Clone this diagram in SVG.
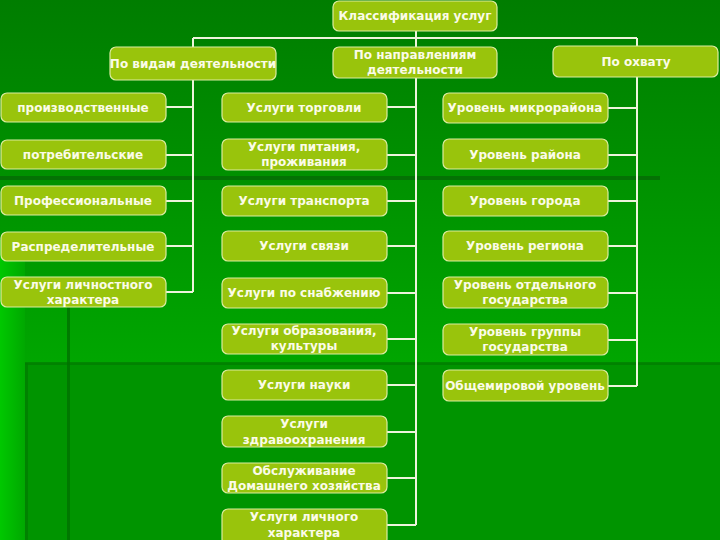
<svg xmlns="http://www.w3.org/2000/svg" width="720" height="540" viewBox="0 0 720 540">
<defs>
<linearGradient id="bg" x1="0" y1="0" x2="0" y2="1">
<stop offset="0" stop-color="#007d00"/>
<stop offset="1" stop-color="#00a600"/>
</linearGradient>
<linearGradient id="ls" x1="0" y1="0" x2="1" y2="0">
<stop offset="0" stop-color="#00c800"/>
<stop offset="1" stop-color="#00a800"/>
</linearGradient>
</defs>
<style>
.n rect{fill:#99c40c;stroke:#dcecA0;stroke-width:1.2}
.n text{font-family:"DejaVu Sans","Liberation Sans",sans-serif;font-size:12px;font-weight:bold;fill:#fbfbe8;text-anchor:middle}
.c{stroke:#eef4dc;stroke-width:2;fill:none}
</style>
<rect x="0" y="0" width="720" height="363" fill="url(#bg)"/>
<rect x="0" y="176" width="660" height="4" fill="#056a05" opacity="0.8"/>
<rect x="0" y="240" width="25" height="300" fill="url(#ls)"/>
<rect x="25" y="363" width="695" height="177" fill="#009400"/>
<rect x="25" y="362" width="695" height="3" fill="#007a00" opacity="0.7"/>
<rect x="25" y="363" width="3" height="177" fill="#007a00" opacity="0.7"/>
<rect x="67" y="300" width="3" height="240" fill="#007000" opacity="0.8"/>
<g id="connectors">
<path class="c" d="M416 31V47M193 38H637M193 38V47M637 38V46"/>
<path class="c" d="M193 80V292M166 107H193M166 155H193M166 201H193M166 246H193M166 292H193"/>
<path class="c" d="M416 78V525M387 107H416M387 155H416M387 201H416M387 246H416M387 293H416M387 339H416M387 385H416M387 432H416M387 478H416M387 525H416"/>
<path class="c" d="M637 77V386M608 108H637M608 155H637M608 201H637M608 246H637M608 293H637M608 340H637M608 386H637"/>
</g>
<g id="root" class="n"><rect x="333" y="1" width="164" height="30" rx="6"/><text x="415" y="20">Классификация услуг</text></g>
<g id="h1" class="n"><rect x="110" y="47" width="166" height="33" rx="6"/><text x="193" y="68">По видам деятельности</text></g>
<g id="h2" class="n"><rect x="333" y="47" width="164" height="31" rx="6"/><text x="415" y="59">По направлениям</text><text x="415" y="74">деятельности</text></g>
<g id="h3" class="n"><rect x="553" y="46" width="165" height="31" rx="6"/><text x="636" y="66">По охвату</text></g>

<g id="l1" class="n"><rect x="1" y="93" width="165" height="29" rx="6"/><text x="83" y="112">производственные</text></g>
<g id="l2" class="n"><rect x="1" y="140" width="165" height="29" rx="6"/><text x="83" y="159">потребительские</text></g>
<g id="l3" class="n"><rect x="1" y="186" width="165" height="29" rx="6"/><text x="83" y="205">Профессиональные</text></g>
<g id="l4" class="n"><rect x="1" y="232" width="165" height="29" rx="6"/><text x="83" y="251">Распределительные</text></g>
<g id="l5" class="n"><rect x="1" y="277" width="165" height="30" rx="6"/><text x="83" y="289">Услуги личностного</text><text x="83" y="304">характера</text></g>

<g id="m1" class="n"><rect x="222" y="93" width="165" height="29" rx="6"/><text x="304" y="112">Услуги торговли</text></g>
<g id="m2" class="n"><rect x="222" y="139" width="165" height="31" rx="6"/><text x="304" y="151">Услуги питания,</text><text x="304" y="166">проживания</text></g>
<g id="m3" class="n"><rect x="222" y="186" width="165" height="30" rx="6"/><text x="304" y="205">Услуги транспорта</text></g>
<g id="m4" class="n"><rect x="222" y="231" width="165" height="30" rx="6"/><text x="304" y="250">Услуги связи</text></g>
<g id="m5" class="n"><rect x="222" y="278" width="165" height="30" rx="6"/><text x="304" y="297">Услуги по снабжению</text></g>
<g id="m6" class="n"><rect x="222" y="324" width="165" height="30" rx="6"/><text x="304" y="335">Услуги образования,</text><text x="304" y="350">культуры</text></g>
<g id="m7" class="n"><rect x="222" y="370" width="165" height="30" rx="6"/><text x="304" y="389">Услуги науки</text></g>
<g id="m8" class="n"><rect x="222" y="416" width="165" height="31" rx="6"/><text x="304" y="428">Услуги</text><text x="304" y="444">здравоохранения</text></g>
<g id="m9" class="n"><rect x="222" y="463" width="165" height="30" rx="6"/><text x="304" y="475">Обслуживание</text><text x="304" y="490">Домашнего  хозяйства</text></g>
<g id="m10" class="n"><rect x="222" y="509" width="165" height="36" rx="6"/><text x="304" y="521">Услуги личного</text><text x="304" y="537">характера</text></g>

<g id="r1" class="n"><rect x="443" y="93" width="165" height="30" rx="6"/><text x="525" y="112">Уровень микрорайона</text></g>
<g id="r2" class="n"><rect x="443" y="139" width="165" height="30" rx="6"/><text x="525" y="159">Уровень района</text></g>
<g id="r3" class="n"><rect x="443" y="186" width="165" height="30" rx="6"/><text x="525" y="205">Уровень города</text></g>
<g id="r4" class="n"><rect x="443" y="231" width="165" height="30" rx="6"/><text x="525" y="250">Уровень региона</text></g>
<g id="r5" class="n"><rect x="443" y="277" width="165" height="31" rx="6"/><text x="525" y="289">Уровень отдельного</text><text x="525" y="304">государства</text></g>
<g id="r6" class="n"><rect x="443" y="324" width="165" height="31" rx="6"/><text x="525" y="336">Уровень группы</text><text x="525" y="351">государства</text></g>
<g id="r7" class="n"><rect x="443" y="370" width="165" height="31" rx="6"/><text x="525" y="390">Общемировой уровень</text></g>
</svg>
